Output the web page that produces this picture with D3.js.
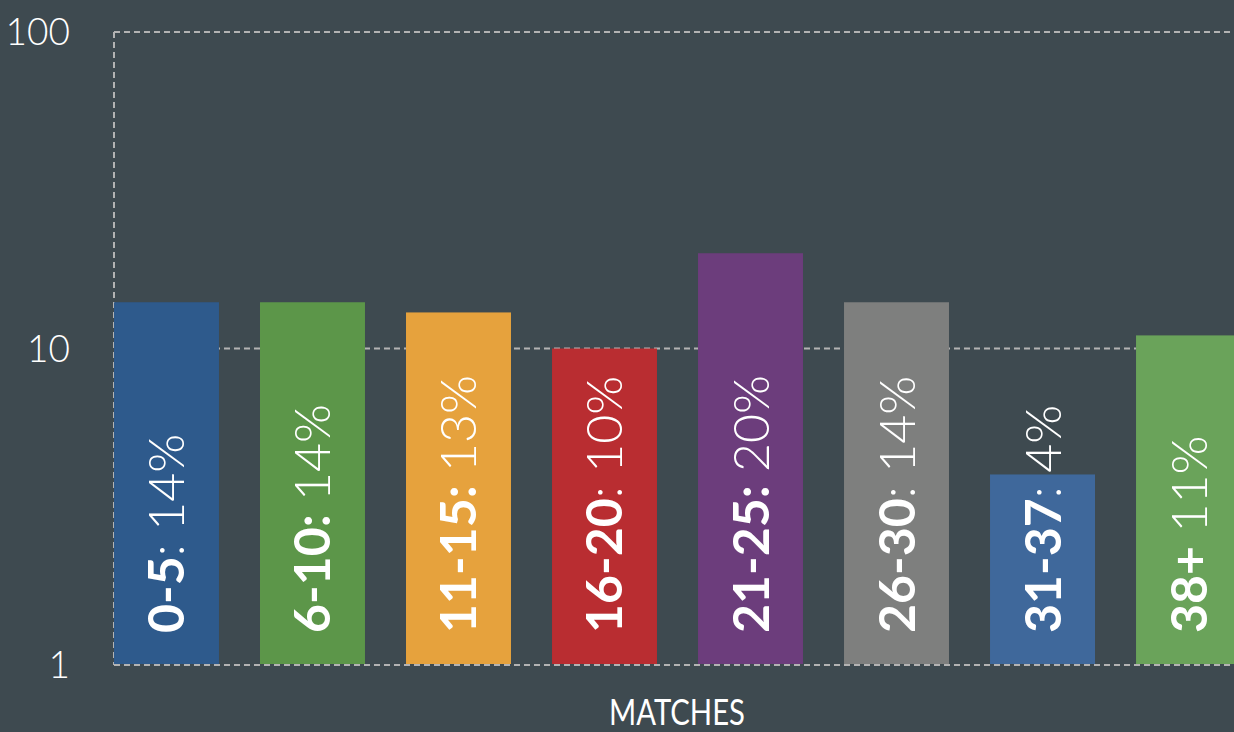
<!DOCTYPE html>
<html>
<head>
<meta charset="utf-8">
<script src="https://cdn.jsdelivr.net/npm/d3@7"></script>
<style>
  html, body { margin: 0; padding: 0; background: #3e4a50; overflow: hidden; }
  svg { display: block; }
</style>
</head>
<body>
<svg id="chart" width="1234" height="732"></svg>
<script>
const categories = ["0-5", "6-10", "11-15", "16-20", "21-25", "26-30", "31-37", "38+"];
const values = [14, 14, 13, 10, 20, 14, 4, 11];
const boldLabels = ["0-5", "6-10:", "11-15:", "16-20", "21-25:", "26-30", "31-37", "38+"];
const lightLabels = [": 14%", " 14%", " 13%", ": 10%", " 20%", ": 14%", ": 4%", " 11%"];
const colors = ["#2e5a8c", "#5c9649", "#e6a23d", "#b92d31", "#6c3d7c", "#7e7f7e", "#3f689b", "#6aa35a"];
const yTicks = [1, 10, 100];
const xTitle = "MATCHES";

(function () {
const svg = d3.select("#chart");
const W = 1234, H = 732;
const mLeft = 114, mTop = 32, mBottom = 665;

const x = d3.scaleBand().domain(categories).range([mLeft, 1241]).paddingInner(0.281).paddingOuter(0);
const y = d3.scaleLog().domain([1, 100]).range([mBottom, mTop]);

svg.append("rect").attr("width", W).attr("height", H).attr("fill", "#3e4a50");

const gridColor = "#b3b3b3";
const grid = svg.append("g");
grid.selectAll("line.h").data(yTicks.filter(d => d !== 1)).join("line")
  .attr("class", "h")
  .attr("x1", mLeft).attr("x2", W)
  .attr("y1", d => y(d)).attr("y2", d => y(d))
  .attr("stroke", gridColor).attr("stroke-width", 2)
  .attr("stroke-dasharray", "6,4");
grid.append("line")
  .attr("x1", mLeft).attr("x2", mLeft)
  .attr("y1", y(100)).attr("y2", y(1))
  .attr("stroke", gridColor).attr("stroke-width", 2)
  .attr("stroke-dasharray", "6,4");

svg.append("g").selectAll("rect").data(categories).join("rect")
  .attr("x", d => x(d))
  .attr("y", (d, i) => y(values[i]))
  .attr("width", x.bandwidth())
  .attr("height", (d, i) => y(1) - y(values[i]) - 1)
  .attr("fill", (d, i) => colors[i]);

svg.append("line")
  .attr("x1", mLeft).attr("x2", W)
  .attr("y1", y(1)).attr("y2", y(1))
  .attr("stroke", gridColor).attr("stroke-width", 2)
  .attr("stroke-dasharray", "6,4");

svg.append("g").selectAll("text").data(yTicks).join("text")
  .attr("x", 70)
  .attr("y", d => y(d))
  .attr("dy", "0.36em")
  .attr("text-anchor", "end")
  .attr("fill", "#ffffff")
  .attr("font-family", "Lato, 'Open Sans', sans-serif")
  .attr("font-weight", 300)
  .attr("font-size", 37)
  .text(d => d);

const lbl = svg.append("g").selectAll("text").data(categories).join("text")
  .attr("transform", d => `translate(${x(d) + x.bandwidth() / 2 + 18},${mBottom - 32}) rotate(-90)`)
  .attr("text-anchor", "start")
  .attr("fill", "#ffffff")
  .attr("font-family", "Lato, 'Open Sans', sans-serif")
  .attr("font-size", 50)
  .attr("xml:space", "preserve");
lbl.append("tspan").attr("font-weight", 700).text((d, i) => boldLabels[i]);
lbl.append("tspan").attr("font-weight", 300).text((d, i) => lightLabels[i]);

svg.append("text")
  .attr("x", 677).attr("y", 725)
  .attr("text-anchor", "middle")
  .attr("fill", "#ffffff")
  .attr("font-family", "Lato, 'Open Sans', sans-serif")
  .attr("font-weight", 400)
  .attr("font-size", 37)
  .attr("textLength", 136)
  .attr("lengthAdjust", "spacingAndGlyphs")
  .text(xTitle);
})();
</script>
</body>
</html>
